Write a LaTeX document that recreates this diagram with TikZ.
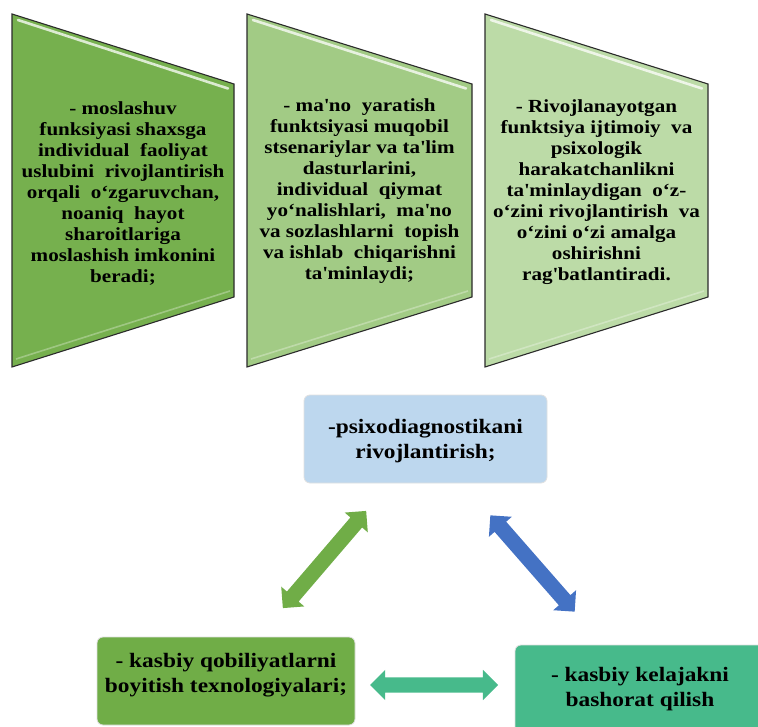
\documentclass[tikz,border=0pt]{standalone}
\usepackage{fontspec}
\setmainfont{Liberation Serif}
\newfontfamily\wideserif[FakeStretch=1.14]{Liberation Serif}
\usetikzlibrary{shapes.arrows}
\newcommand\toptxt{\wideserif\bfseries\fontsize{18.5}{21}\selectfont}
\newcommand\bottxt{\wideserif\bfseries\fontsize{20.5}{25}\selectfont}
\newcommand\ap{\textquotesingle}
\definecolor{gA}{HTML}{76B04E}
\definecolor{gB}{HTML}{A2CB85}
\definecolor{gC}{HTML}{BCDBA7}
\definecolor{lblue}{HTML}{BDD7EE}
\definecolor{agreen}{HTML}{70AD47}
\definecolor{ablue}{HTML}{4472C4}
\definecolor{teal}{HTML}{47BA8B}
\definecolor{edge}{HTML}{2B2B2B}
\tikzset{
  trap/.style={draw=edge, line width=1.1pt, line join=miter},
  gloss/.style={white, line width=2.6pt, opacity=0.75, line cap=round},
  lowgloss/.style={white, line width=1.6pt, opacity=0.3},
  ttext/.style={font=\toptxt, align=center, anchor=north, inner sep=0pt, text=black},
  rbox/.style={rounded corners=6pt, draw=black!12, line width=0.8pt},
  btext/.style={font=\bottxt, align=center, inner sep=0pt, text=black},
  dbl/.style={double arrow, double arrow head extend=7.5pt, inner sep=7.5pt,
    minimum height=128pt, draw=none, double arrow tip angle=90}
}
\begin{document}
\begin{tikzpicture}[x=1pt,y=-1pt]
\useasboundingbox (0,0) rectangle (758,727);
% trapezoids
\foreach \L/\R/\c in {12/234/gA,247/472/gB,485/708/gC}{
  \draw[trap, fill=\c] (\L,14) -- (\R,84) -- (\R,297) -- (\L,367) -- cycle;
  \draw[gloss] (\L+6,20) -- (\R-6,88.5);
  \draw[lowgloss] (\L+4,359) -- (\R-4,291);
}
\node[ttext] (t1) at (123,101) {- moslashuv\\funksiyasi shaxsga\\individual\ \ faoliyat\\uslubini\ \ rivojlantirish\\orqali\ \ o‘zgaruvchan,\\noaniq\ \ hayot\\sharoitlariga\\moslashish imkonini\\beradi;};
\node[ttext] (t2) at (359.5,98) {- ma\ap no\ \ yaratish\\funktsiyasi muqobil\\stsenariylar va ta\ap lim\\dasturlarini,\\individual\ \ qiymat\\yo‘nalishlari,\ \ ma\ap no\\va sozlashlarni\ \ topish\\va ishlab\ \ chiqarishni\\ta\ap minlaydi;};
\node[ttext] (t3) at (596.5,99) {- Rivojlanayotgan\\funktsiya ijtimoiy\ \ va\\psixologik\\harakatchanlikni\\ta\ap minlaydigan\ \ o‘z-\\o‘zini rivojlantirish\ \ va\\o‘zini o‘zi amalga\\oshirishni\\rag\ap batlantiradi.};
% bottom boxes
\draw[rbox, fill=lblue] (304,395) rectangle (547,483);
\node[btext] (p) at (425.5,441) {-psixodiagnostikani\\rivojlantirish;};
\draw[rbox, fill=agreen] (97,637) rectangle (355,725);
\node[btext] (k) at (226,675) {- kasbiy qobiliyatlarni\\boyitish texnologiyalari;};
\draw[rbox, fill=teal] (515,645) rectangle (768,740);
\node[btext] (b) at (640,689) {- kasbiy kelajakni\\bashorat qilish};
% arrows
\node[dbl, fill=agreen, rotate=49.4] (a1) at (324.5,559.5) {};
\node[dbl, fill=ablue, rotate=-48.8] (a2) at (532.5,563.5) {};
\node[dbl, fill=teal] (a3) at (434,685) {};
\end{tikzpicture}
\end{document}
